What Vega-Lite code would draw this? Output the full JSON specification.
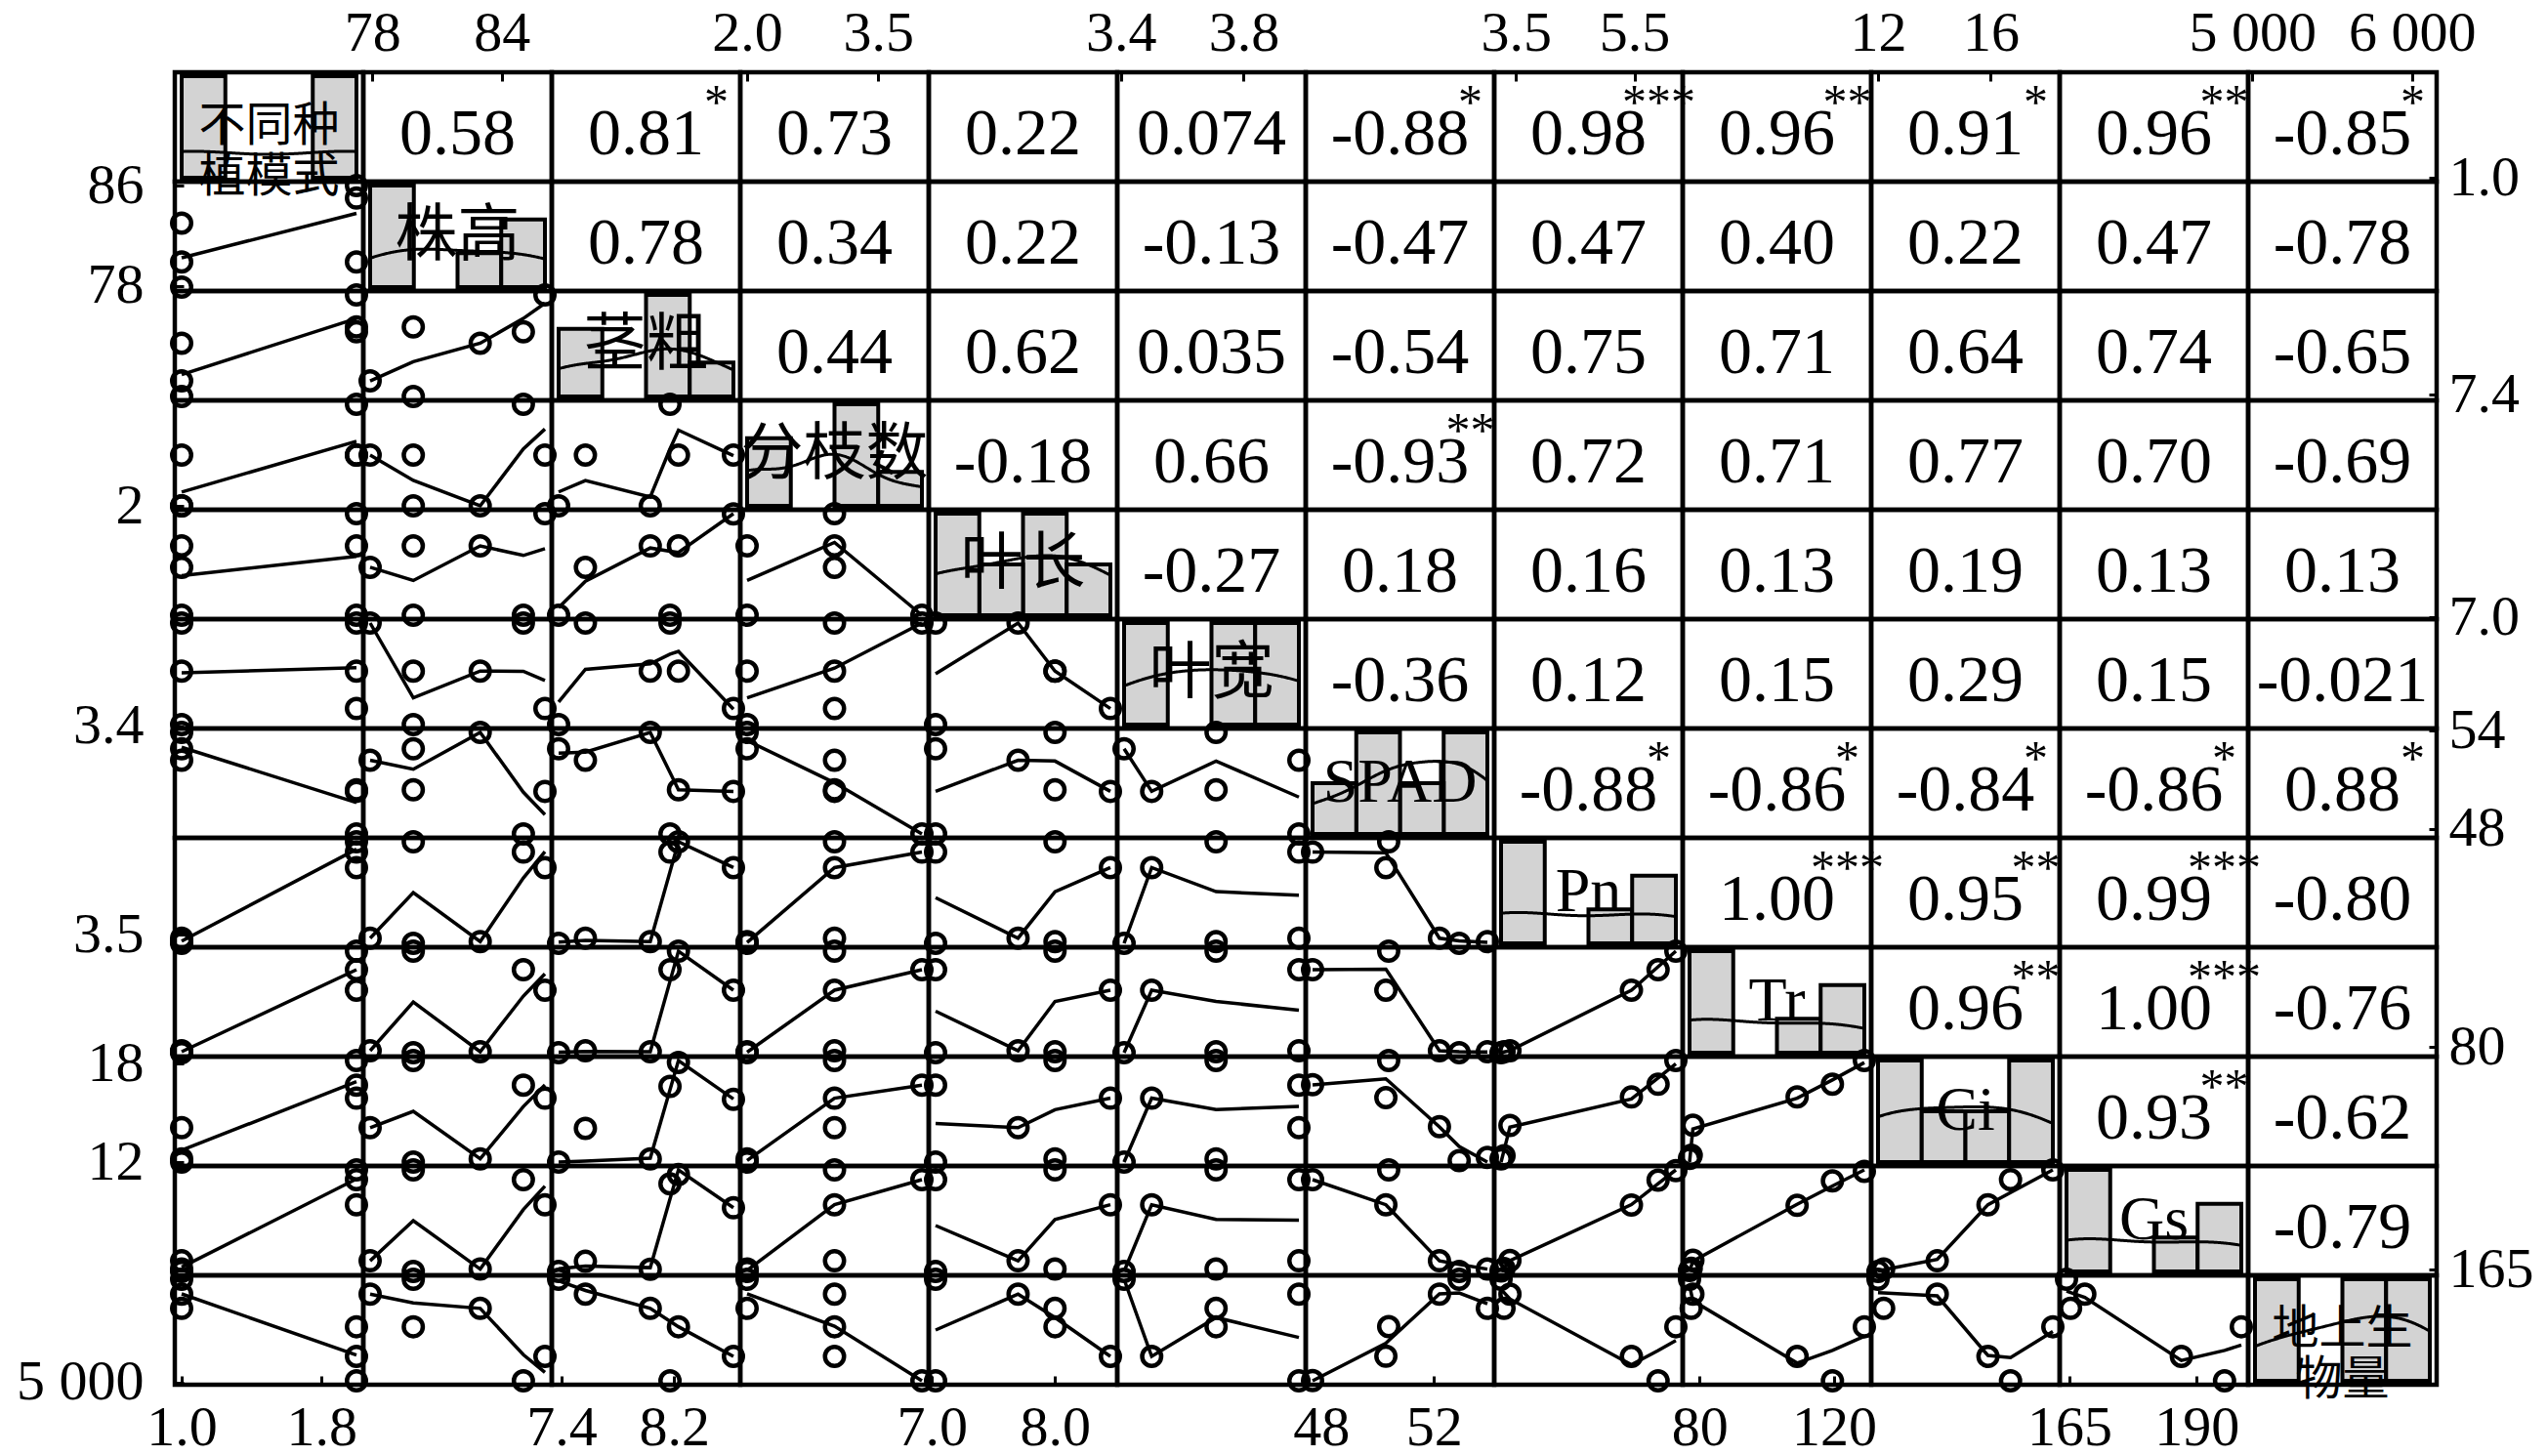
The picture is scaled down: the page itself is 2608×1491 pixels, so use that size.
{
"$schema":"https://vega.github.io/schema/vega-lite/v6.json",
"background":"white",
"padding":{"left":16,"top":5,"right":0,"bottom":0},
"datasets":{
 "obs":[
  {"id":1,"不同种植模式":1,"株高":83.0,"茎粗":8.03,"分枝数":2,"叶长":8.0,"叶宽":3.71,"SPAD":53.9,"Pn":3.30,"Tr":77.5,"Ci":12.2,"Gs":165.2,"地上生物量":5798},
  {"id":2,"不同种植模式":1,"株高":77.9,"茎粗":7.57,"分枝数":3,"叶长":7.7,"叶宽":3.98,"SPAD":52.2,"Pn":3.40,"Tr":78.0,"Ci":14.1,"Gs":168.0,"地上生物量":5952},
  {"id":3,"不同种植模式":1,"株高":79.9,"茎粗":7.38,"分枝数":2,"叶长":7.03,"叶宽":3.41,"SPAD":52.9,"Pn":3.25,"Tr":77.0,"Ci":12.0,"Gs":164.4,"地上生物量":6112},
  {"id":4,"不同种植模式":2,"株高":86.0,"茎粗":8.62,"分枝数":3,"叶长":8.45,"叶宽":3.50,"SPAD":50.3,"Pn":5.45,"Tr":109.0,"Ci":15.9,"Gs":187.0,"地上生物量":5280},
  {"id":5,"不同种植模式":2,"株高":85.0,"茎粗":8.17,"分枝数":4,"叶长":7.03,"叶宽":3.98,"SPAD":47.7,"Pn":5.90,"Tr":119.5,"Ci":16.7,"Gs":195.5,"地上生物量":5017},
  {"id":6,"不同种植模式":2,"株高":79.9,"茎粗":8.23,"分枝数":3,"叶长":8.0,"叶宽":3.71,"SPAD":50.4,"Pn":6.20,"Tr":129.0,"Ci":18.2,"Gs":198.8,"地上生物量":5600}
 ],
 "corr":[
  {"pk":"0_1","r":"0.58","s":""},{"pk":"0_2","r":"0.81","s":"*"},{"pk":"0_3","r":"0.73","s":""},{"pk":"0_4","r":"0.22","s":""},{"pk":"0_5","r":"0.074","s":""},{"pk":"0_6","r":"-0.88","s":"*"},{"pk":"0_7","r":"0.98","s":"***"},{"pk":"0_8","r":"0.96","s":"**"},{"pk":"0_9","r":"0.91","s":"*"},{"pk":"0_10","r":"0.96","s":"**"},{"pk":"0_11","r":"-0.85","s":"*"},
  {"pk":"1_2","r":"0.78","s":""},{"pk":"1_3","r":"0.34","s":""},{"pk":"1_4","r":"0.22","s":""},{"pk":"1_5","r":"-0.13","s":""},{"pk":"1_6","r":"-0.47","s":""},{"pk":"1_7","r":"0.47","s":""},{"pk":"1_8","r":"0.40","s":""},{"pk":"1_9","r":"0.22","s":""},{"pk":"1_10","r":"0.47","s":""},{"pk":"1_11","r":"-0.78","s":""},
  {"pk":"2_3","r":"0.44","s":""},{"pk":"2_4","r":"0.62","s":""},{"pk":"2_5","r":"0.035","s":""},{"pk":"2_6","r":"-0.54","s":""},{"pk":"2_7","r":"0.75","s":""},{"pk":"2_8","r":"0.71","s":""},{"pk":"2_9","r":"0.64","s":""},{"pk":"2_10","r":"0.74","s":""},{"pk":"2_11","r":"-0.65","s":""},
  {"pk":"3_4","r":"-0.18","s":""},{"pk":"3_5","r":"0.66","s":""},{"pk":"3_6","r":"-0.93","s":"**"},{"pk":"3_7","r":"0.72","s":""},{"pk":"3_8","r":"0.71","s":""},{"pk":"3_9","r":"0.77","s":""},{"pk":"3_10","r":"0.70","s":""},{"pk":"3_11","r":"-0.69","s":""},
  {"pk":"4_5","r":"-0.27","s":""},{"pk":"4_6","r":"0.18","s":""},{"pk":"4_7","r":"0.16","s":""},{"pk":"4_8","r":"0.13","s":""},{"pk":"4_9","r":"0.19","s":""},{"pk":"4_10","r":"0.13","s":""},{"pk":"4_11","r":"0.13","s":""},
  {"pk":"5_6","r":"-0.36","s":""},{"pk":"5_7","r":"0.12","s":""},{"pk":"5_8","r":"0.15","s":""},{"pk":"5_9","r":"0.29","s":""},{"pk":"5_10","r":"0.15","s":""},{"pk":"5_11","r":"-0.021","s":""},
  {"pk":"6_7","r":"-0.88","s":"*"},{"pk":"6_8","r":"-0.86","s":"*"},{"pk":"6_9","r":"-0.84","s":"*"},{"pk":"6_10","r":"-0.86","s":"*"},{"pk":"6_11","r":"0.88","s":"*"},
  {"pk":"7_8","r":"1.00","s":"***"},{"pk":"7_9","r":"0.95","s":"**"},{"pk":"7_10","r":"0.99","s":"***"},{"pk":"7_11","r":"-0.80","s":""},
  {"pk":"8_9","r":"0.96","s":"**"},{"pk":"8_10","r":"1.00","s":"***"},{"pk":"8_11","r":"-0.76","s":""},
  {"pk":"9_10","r":"0.93","s":"**"},{"pk":"9_11","r":"-0.62","s":""},
  {"pk":"10_11","r":"-0.79","s":""}
 ]
},
"data":{"name":"obs"},
"spacing":0,
"bounds":"flush",
"vconcat":[
 {"spacing":0,"bounds":"flush","hconcat":[
  {"width":193,"height":1,"view":{"stroke":null},"mark":{"type":"point","opacity":0}},
  {"width":193,"height":1,"view":{"stroke":null},"mark":{"type":"point","opacity":0},"encoding":{"x":{"field":"株高","type":"quantitative","scale":{"zero":false,"nice":false,"padding":7},"axis":{"orient":"top","values":[78,84],"format":"d","title":null}}}},
  {"width":193,"height":1,"view":{"stroke":null},"mark":{"type":"point","opacity":0}},
  {"width":193,"height":1,"view":{"stroke":null},"mark":{"type":"point","opacity":0},"encoding":{"x":{"field":"分枝数","type":"quantitative","scale":{"zero":false,"nice":false,"padding":7},"axis":{"orient":"top","values":[2,3.5],"format":".1f","title":null}}}},
  {"width":193,"height":1,"view":{"stroke":null},"mark":{"type":"point","opacity":0}},
  {"width":193,"height":1,"view":{"stroke":null},"mark":{"type":"point","opacity":0},"encoding":{"x":{"field":"叶宽","type":"quantitative","scale":{"zero":false,"nice":false,"padding":7},"axis":{"orient":"top","values":[3.4,3.8],"format":".1f","title":null}}}},
  {"width":193,"height":1,"view":{"stroke":null},"mark":{"type":"point","opacity":0}},
  {"width":193,"height":1,"view":{"stroke":null},"mark":{"type":"point","opacity":0},"encoding":{"x":{"field":"Pn","type":"quantitative","scale":{"zero":false,"nice":false,"padding":7},"axis":{"orient":"top","values":[3.5,5.5],"format":".1f","title":null}}}},
  {"width":193,"height":1,"view":{"stroke":null},"mark":{"type":"point","opacity":0}},
  {"width":193,"height":1,"view":{"stroke":null},"mark":{"type":"point","opacity":0},"encoding":{"x":{"field":"Ci","type":"quantitative","scale":{"zero":false,"nice":false,"padding":7},"axis":{"orient":"top","values":[12,16],"format":"d","title":null}}}},
  {"width":193,"height":1,"view":{"stroke":null},"mark":{"type":"point","opacity":0}},
  {"width":193,"height":1,"view":{"stroke":null},"mark":{"type":"point","opacity":0},"encoding":{"x":{"field":"地上生物量","type":"quantitative","scale":{"zero":false,"nice":false,"padding":7},"axis":{"orient":"top","values":[5000,6000],"labelExpr":"replace(format(datum.value, ','), ',', ' ')","title":null}}}}
 ]},
 {"spacing":0,"bounds":"flush","hconcat":[
  {"spacing":0,"bounds":"flush","vconcat":[
   {"width":1,"height":112,"view":{"stroke":null},"mark":{"type":"point","opacity":0}},
   {"width":1,"height":112,"view":{"stroke":null},"mark":{"type":"point","opacity":0},"encoding":{"y":{"field":"株高","type":"quantitative","scale":{"zero":false,"nice":false,"padding":4},"axis":{"orient":"left","values":[78,86],"format":"d","title":null}}}},
   {"width":1,"height":112,"view":{"stroke":null},"mark":{"type":"point","opacity":0}},
   {"width":1,"height":112,"view":{"stroke":null},"mark":{"type":"point","opacity":0},"encoding":{"y":{"field":"分枝数","type":"quantitative","scale":{"zero":false,"nice":false,"padding":4},"axis":{"orient":"left","values":[2],"format":"d","title":null}}}},
   {"width":1,"height":112,"view":{"stroke":null},"mark":{"type":"point","opacity":0}},
   {"width":1,"height":112,"view":{"stroke":null},"mark":{"type":"point","opacity":0},"encoding":{"y":{"field":"叶宽","type":"quantitative","scale":{"zero":false,"nice":false,"padding":4},"axis":{"orient":"left","values":[3.4],"format":".1f","title":null}}}},
   {"width":1,"height":112,"view":{"stroke":null},"mark":{"type":"point","opacity":0}},
   {"width":1,"height":112,"view":{"stroke":null},"mark":{"type":"point","opacity":0},"encoding":{"y":{"field":"Pn","type":"quantitative","scale":{"zero":false,"nice":false,"padding":4},"axis":{"orient":"left","values":[3.5],"format":".1f","title":null}}}},
   {"width":1,"height":112,"view":{"stroke":null},"mark":{"type":"point","opacity":0}},
   {"width":1,"height":112,"view":{"stroke":null},"mark":{"type":"point","opacity":0},"encoding":{"y":{"field":"Ci","type":"quantitative","scale":{"zero":false,"nice":false,"padding":4},"axis":{"orient":"left","values":[12,18],"format":"d","title":null}}}},
   {"width":1,"height":112,"view":{"stroke":null},"mark":{"type":"point","opacity":0}},
   {"width":1,"height":112,"view":{"stroke":null},"mark":{"type":"point","opacity":0},"encoding":{"y":{"field":"地上生物量","type":"quantitative","scale":{"zero":false,"nice":false,"padding":4},"axis":{"orient":"left","values":[5000],"labelExpr":"replace(format(datum.value, ','), ',', ' ')","title":null}}}}
  ]},
  {
   "transform":[
    {"fold":["不同种植模式","株高","茎粗","分枝数","叶长","叶宽","SPAD","Pn","Tr","Ci","Gs","地上生物量"],"as":["rv","ry"]},
    {"fold":["不同种植模式","株高","茎粗","分枝数","叶长","叶宽","SPAD","Pn","Tr","Ci","Gs","地上生物量"],"as":["cv","cx"]},
    {"calculate":"indexof(['不同种植模式','株高','茎粗','分枝数','叶长','叶宽','SPAD','Pn','Tr','Ci','Gs','地上生物量'], datum.rv)","as":"ri"},
    {"calculate":"indexof(['不同种植模式','株高','茎粗','分枝数','叶长','叶宽','SPAD','Pn','Tr','Ci','Gs','地上生物量'], datum.cv)","as":"ci"},
    {"calculate":"datum.ri + '_' + datum.ci","as":"pk"},
    {"lookup":"pk","from":{"data":{"name":"corr"},"key":"pk","fields":["r","s"]}}
   ],
   "facet":{"row":{"field":"ri","type":"ordinal","header":null},"column":{"field":"ci","type":"ordinal","header":null}},
   "spacing":0,
   "bounds":"flush",
   "resolve":{"scale":{"x":"independent","y":"independent"}},
   "spec":{"width":193,"height":112,"layer":[
    {"transform":[{"filter":"datum.ri == datum.ci"},
      {"joinaggregate":[{"op":"min","field":"cx","as":"lo"},{"op":"max","field":"cx","as":"hi"}],"groupby":["ri","ci"]},
      {"calculate":"(datum.cx - datum.lo) / (datum.hi - datum.lo)","as":"t"},
      {"bin":{"extent":[0,1],"step":0.25},"field":"t","as":["b0","b1"]},
      {"aggregate":[{"op":"count","as":"n"}],"groupby":["ri","ci","lo","hi","b0","b1"]},
      {"calculate":"datum.lo + datum.b0 * (datum.hi - datum.lo)","as":"x0"},
      {"calculate":"datum.lo + datum.b1 * (datum.hi - datum.lo)","as":"x1"},
      {"calculate":"datum.n / (6 * (datum.x1 - datum.x0))","as":"dens"},
      {"calculate":"0","as":"base"}],
     "mark":{"type":"rect","fill":"#d3d3d3","stroke":"black","strokeWidth":4},
     "encoding":{"x":{"field":"x0","type":"quantitative","scale":{"zero":false,"nice":false,"padding":7},"axis":null},"x2":{"field":"x1"},
      "y":{"field":"dens","type":"quantitative","scale":{"zero":false,"nice":false,"padding":4},"axis":null},"y2":{"field":"base"}}},
    {"transform":[{"filter":"datum.ri == datum.ci"},{"density":"cx","groupby":["ri","ci"],"as":["dx","dens"]}],
     "mark":{"type":"line","stroke":"black","strokeWidth":3},
     "encoding":{"x":{"field":"dx","type":"quantitative","scale":{"zero":false,"nice":false,"padding":7},"axis":null},
      "y":{"field":"dens","type":"quantitative","scale":{"zero":false,"nice":false,"padding":4},"axis":null}}},
    {"transform":[{"filter":"datum.ri > datum.ci"}],
     "mark":{"type":"point","shape":"circle","filled":false,"stroke":"black","strokeWidth":4.5,"size":380,"opacity":1},
     "encoding":{"x":{"field":"cx","type":"quantitative","scale":{"zero":false,"nice":false,"padding":7},"axis":null},
      "y":{"field":"ry","type":"quantitative","scale":{"zero":false,"nice":false,"padding":4},"axis":null}}},
    {"transform":[{"filter":"datum.ri > datum.ci"},{"loess":"ry","on":"cx","groupby":["ri","ci"],"bandwidth":0.67}],
     "mark":{"type":"line","stroke":"black","strokeWidth":3.5},
     "encoding":{"x":{"field":"cx","type":"quantitative","scale":{"zero":false,"nice":false,"padding":7},"axis":null},
      "y":{"field":"ry","type":"quantitative","scale":{"zero":false,"nice":false,"padding":4},"axis":null}}},
    {"transform":[{"filter":"datum.ri == datum.ci && datum.id == 1"},
      {"calculate":"length(datum.rv) > 4 ? substring(datum.rv, 0, 3) + '\\n' + substring(datum.rv, 3) : datum.rv","as":"lab"}],
     "mark":{"type":"text","font":"Liberation Serif, Noto Sans CJK SC","lineBreak":"\n","lineHeight":52,"baseline":"middle","color":"black"},
     "encoding":{"text":{"field":"lab","type":"nominal"},
      "size":{"condition":{"test":"length(datum.rv) > 4","value":48},"value":64}}},
    {"transform":[{"filter":"datum.ri < datum.ci && datum.id == 1"}],
     "mark":{"type":"text","font":"Liberation Serif","fontSize":68,"baseline":"middle","dy":8,"color":"black"},
     "encoding":{"text":{"field":"r","type":"nominal"}}},
    {"transform":[{"filter":"datum.ri < datum.ci && datum.id == 1"}],
     "mark":{"type":"text","font":"Liberation Serif","fontSize":50,"baseline":"middle","dx":72,"dy":-24,"color":"black"},
     "encoding":{"text":{"field":"s","type":"nominal"}}}
   ]}
  },
  {"width":2316,"height":1,"view":{"stroke":null},"mark":{"type":"point","opacity":0}},
  {"spacing":0,"bounds":"flush","vconcat":[
   {"width":1,"height":112,"view":{"stroke":null},"mark":{"type":"point","opacity":0},"encoding":{"y":{"field":"不同种植模式","type":"quantitative","scale":{"zero":false,"nice":false,"padding":4},"axis":{"orient":"right","values":[1],"format":".1f","title":null}}}},
   {"width":1,"height":112,"view":{"stroke":null},"mark":{"type":"point","opacity":0}},
   {"width":1,"height":112,"view":{"stroke":null},"mark":{"type":"point","opacity":0},"encoding":{"y":{"field":"茎粗","type":"quantitative","scale":{"zero":false,"nice":false,"padding":4},"axis":{"orient":"right","values":[7.4],"format":".1f","title":null}}}},
   {"width":1,"height":112,"view":{"stroke":null},"mark":{"type":"point","opacity":0}},
   {"width":1,"height":112,"view":{"stroke":null},"mark":{"type":"point","opacity":0},"encoding":{"y":{"field":"叶长","type":"quantitative","scale":{"zero":false,"nice":false,"padding":4},"axis":{"orient":"right","values":[7],"format":".1f","title":null}}}},
   {"width":1,"height":112,"view":{"stroke":null},"mark":{"type":"point","opacity":0}},
   {"width":1,"height":112,"view":{"stroke":null},"mark":{"type":"point","opacity":0},"encoding":{"y":{"field":"SPAD","type":"quantitative","scale":{"zero":false,"nice":false,"padding":4},"axis":{"orient":"right","values":[48,54],"format":"d","title":null}}}},
   {"width":1,"height":112,"view":{"stroke":null},"mark":{"type":"point","opacity":0}},
   {"width":1,"height":112,"view":{"stroke":null},"mark":{"type":"point","opacity":0},"encoding":{"y":{"field":"Tr","type":"quantitative","scale":{"zero":false,"nice":false,"padding":4},"axis":{"orient":"right","values":[80],"format":"d","title":null}}}},
   {"width":1,"height":112,"view":{"stroke":null},"mark":{"type":"point","opacity":0}},
   {"width":1,"height":112,"view":{"stroke":null},"mark":{"type":"point","opacity":0},"encoding":{"y":{"field":"Gs","type":"quantitative","scale":{"zero":false,"nice":false,"padding":4},"axis":{"orient":"right","values":[165],"format":"d","title":null}}}},
   {"width":1,"height":112,"view":{"stroke":null},"mark":{"type":"point","opacity":0}}
  ]}
 ]},
 {"spacing":0,"bounds":"flush","vconcat":[
  {"width":1,"height":1343,"view":{"stroke":null},"mark":{"type":"point","opacity":0}},
  {"spacing":0,"bounds":"flush","hconcat":[
   {"width":193,"height":1,"view":{"stroke":null},"mark":{"type":"point","opacity":0},"encoding":{"x":{"field":"不同种植模式","type":"quantitative","scale":{"zero":false,"nice":false,"padding":7},"axis":{"orient":"bottom","values":[1,1.8],"format":".1f","title":null}}}},
   {"width":193,"height":1,"view":{"stroke":null},"mark":{"type":"point","opacity":0}},
   {"width":193,"height":1,"view":{"stroke":null},"mark":{"type":"point","opacity":0},"encoding":{"x":{"field":"茎粗","type":"quantitative","scale":{"zero":false,"nice":false,"padding":7},"axis":{"orient":"bottom","values":[7.4,8.2],"format":".1f","title":null}}}},
   {"width":193,"height":1,"view":{"stroke":null},"mark":{"type":"point","opacity":0}},
   {"width":193,"height":1,"view":{"stroke":null},"mark":{"type":"point","opacity":0},"encoding":{"x":{"field":"叶长","type":"quantitative","scale":{"zero":false,"nice":false,"padding":7},"axis":{"orient":"bottom","values":[7,8],"format":".1f","title":null}}}},
   {"width":193,"height":1,"view":{"stroke":null},"mark":{"type":"point","opacity":0}},
   {"width":193,"height":1,"view":{"stroke":null},"mark":{"type":"point","opacity":0},"encoding":{"x":{"field":"SPAD","type":"quantitative","scale":{"zero":false,"nice":false,"padding":7},"axis":{"orient":"bottom","values":[48,52],"format":"d","title":null}}}},
   {"width":193,"height":1,"view":{"stroke":null},"mark":{"type":"point","opacity":0}},
   {"width":193,"height":1,"view":{"stroke":null},"mark":{"type":"point","opacity":0},"encoding":{"x":{"field":"Tr","type":"quantitative","scale":{"zero":false,"nice":false,"padding":7},"axis":{"orient":"bottom","values":[80,120],"format":"d","title":null}}}},
   {"width":193,"height":1,"view":{"stroke":null},"mark":{"type":"point","opacity":0}},
   {"width":193,"height":1,"view":{"stroke":null},"mark":{"type":"point","opacity":0},"encoding":{"x":{"field":"Gs","type":"quantitative","scale":{"zero":false,"nice":false,"padding":7},"axis":{"orient":"bottom","values":[165,190],"format":"d","title":null}}}},
   {"width":193,"height":1,"view":{"stroke":null},"mark":{"type":"point","opacity":0}}
  ]}
 ]}
],
"config":{
 "view":{"stroke":"black","strokeWidth":4.5},
 "axis":{"labelFont":"Liberation Serif","labelFontSize":58,"labelColor":"black","tickColor":"black","tickWidth":3,"tickSize":-9,"domain":false,"grid":false,"labelFlush":false,"labelOverlap":false,"labelBound":false},
 "axisTop":{"labelPadding":20},
 "axisBottom":{"labelPadding":24},
 "axisLeft":{"labelPadding":41},
 "axisRight":{"labelPadding":20}
}
}
